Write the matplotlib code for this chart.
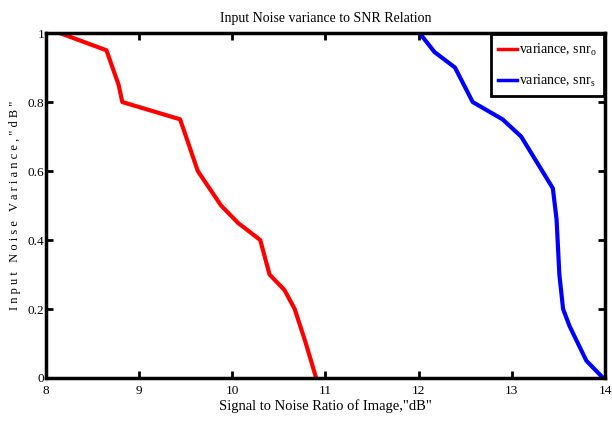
import matplotlib as mpl
mpl.use('Agg')
import matplotlib.pyplot as plt

# SNR (dB) read against input noise variance
var_o = [1.0, 0.95, 0.85, 0.80, 0.75, 0.60, 0.50, 0.45, 0.40, 0.30, 0.255, 0.20, 0.15, 0.10, 0.0]
snr_o = [8.15, 8.65, 8.78, 8.82, 9.44, 9.63, 9.88, 10.06, 10.3, 10.4, 10.56, 10.67, 10.73, 10.79, 10.9]

var_s = [1.0, 0.945, 0.90, 0.80, 0.75, 0.70, 0.55, 0.46, 0.30, 0.20, 0.15, 0.05, 0.0]
snr_s = [12.01, 12.17, 12.39, 12.58, 12.9, 13.1, 13.44, 13.48, 13.51, 13.55, 13.62, 13.8, 13.98]

xticks = [8, 9, 10, 11, 12, 13, 14]
yticks = [0, 0.2, 0.4, 0.6, 0.8, 1]
ylabels = ['0', '0.2', '0.4', '0.6', '0.8', '1']

plt.rcParams['font.family'] = ['Liberation Serif', 'DejaVu Serif']
plt.rcParams['mathtext.fontset'] = 'custom'
plt.rcParams['mathtext.rm'] = 'Liberation Serif'

fig = plt.figure(figsize=(6.12, 4.24), dpi=100)
ax = fig.add_axes([0.075, 0.1085, 0.9136, 0.8135])

ax.plot(snr_o, var_o, color='red', lw=3, label='variance, snr$_{\\mathregular{o}}$')
ax.plot(snr_s, var_s, color='blue', lw=3, label='variance, snr$_{\\mathregular{s}}$')

ax.set_xlim(8, 14)
ax.set_ylim(0, 1)
ax.set_xticks(xticks)
ax.set_yticks(yticks)
ax.set_yticklabels(ylabels)
ax.tick_params(direction='in', length=5, width=2, top=True, right=True, labelsize=9.5)
ax.tick_params(axis='x', pad=5)
ax.tick_params(axis='y', pad=1)
for s in ax.spines.values():
    s.set_linewidth(2.5)

ax.set_title('Input Noise variance to SNR Relation', fontsize=10, pad=8)
ax.set_xlabel('Signal to Noise Ratio of Image,"dB"', fontsize=10.5, labelpad=2)
ax.set_ylabel('I n p u t   N o i s e   V a r i a n c e , " d B "', fontsize=9, labelpad=5)

leg = ax.legend(loc='upper right', fontsize=10, fancybox=False, framealpha=1,
                edgecolor='black', handlelength=1.4, handletextpad=0.15,
                borderaxespad=0.1, borderpad=0.5, labelspacing=1.1)
leg.get_frame().set_linewidth(2)
for ln in leg.get_lines():
    ln.set_linewidth(2.5)

fig.savefig('out.png', dpi=100)
